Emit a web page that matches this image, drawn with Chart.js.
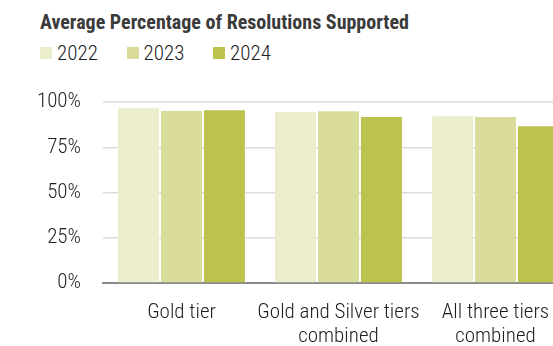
<!DOCTYPE html>
<html>
<head>
<meta charset="utf-8">
<script src="https://cdn.jsdelivr.net/npm/chart.js@4.4.1/dist/chart.umd.min.js"></script>
<style>
  html, body { margin: 0; padding: 0; background: #fff; overflow: hidden; }
  .wrap { position: relative; width: 553px; height: 346px; overflow: hidden; }
  .title {
    position: absolute; left: 40px; top: 10px; white-space: nowrap;
    font: bold 20px Roboto, sans-serif; font-stretch: 75%;
    color: #3b3b3b;
  }
  .legend {
    position: absolute; left: 40px; top: 41px; display: flex;
    font: 300 21px Roboto, sans-serif; font-stretch: 75%;
    color: #1e1e1e;
  }
  .legend .item { display: flex; align-items: center; width: 86.5px; flex: none; }
  .legend .sw { width: 12px; height: 12px; margin-right: 5px; }
  #chart { position: absolute; left: 0; top: 0; }
</style>
</head>
<body>
<div class="wrap">
  <div class="title">Average Percentage of Resolutions Supported</div>
  <div class="legend" id="legend"></div>
  <canvas id="chart" width="580" height="346"></canvas>
</div>
<script>
/* ── Data ── */
const tiers   = [['Gold tier'], ['Gold and Silver tiers', 'combined'], ['All three tiers', 'combined']];
const years   = ['2022', '2023', '2024'];
const pct2022 = [96.5, 94.5, 92.1];
const pct2023 = [95.0, 94.9, 91.7];
const pct2024 = [95.4, 91.7, 86.6];
const yTicks  = [0, 25, 50, 75, 100];

const colors  = ['#ebedcb', '#dadc9b', '#bcc24e'];

/* condensed face: Chart.js passes weight straight into the canvas font string */
const axisFont = { family: 'Roboto, sans-serif', weight: '300 condensed', size: 21 };

/* ── Legend ── */
const legendEl = document.getElementById('legend');
years.forEach((y, i) => {
    const item = document.createElement('div');
    item.className = 'item';
    item.innerHTML = '<span class="sw" style="background:' + colors[i] + '"></span>' + y;
    legendEl.appendChild(item);
});

/* ── Chart ── */
new Chart(document.getElementById('chart'), {
    type: 'bar',
    data: {
        labels: tiers,
        datasets: [pct2022, pct2023, pct2024].map((d, i) => ({
            label: years[i],
            data: d,
            backgroundColor: colors[i],
            barPercentage: 0.955,
            categoryPercentage: 0.82
        }))
    },
    options: {
        responsive: false,
        animation: false,
        layout: { padding: { top: 102, right: 6, left: 0, bottom: 0 } },
        plugins: { legend: { display: false }, tooltip: { enabled: false } },
        scales: {
            x: {
                grid: { display: false, drawTicks: false },
                border: { color: '#8a8a8a', width: 2 },
                ticks: {
                    color: '#1e1e1e', padding: 18, maxRotation: 0, autoSkip: false,
                    font: Object.assign({ lineHeight: 24 / 21 }, axisFont)
                },
                afterFit: s => { s.height = 63; }
            },
            y: {
                min: 0, max: 100,
                afterBuildTicks: s => { s.ticks = yTicks.map(v => ({ value: v })); },
                ticks: {
                    color: '#1e1e1e', padding: 22,
                    font: axisFont,
                    callback: v => v + '%'
                },
                grid: { color: '#dcdcdc', lineWidth: 1.5, drawTicks: false },
                border: { display: false },
                afterFit: s => { s.width = 103; }
            }
        }
    }
});
</script>
</body>
</html>
